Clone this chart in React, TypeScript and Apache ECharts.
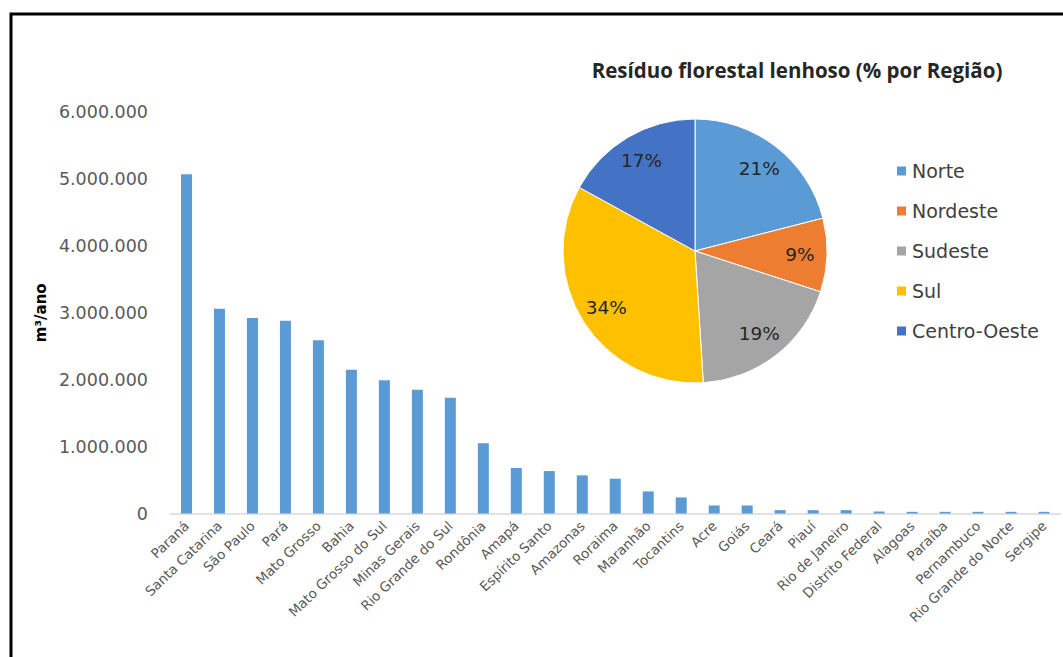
import React, { useEffect, useRef } from "react";
import * as echarts from "echarts";

const states = [
  "Paraná", "Santa Catarina", "São Paulo", "Pará", "Mato Grosso", "Bahia",
  "Mato Grosso do Sul", "Minas Gerais", "Rio Grande do Sul", "Rondônia", "Amapá",
  "Espírito Santo", "Amazonas", "Roraima", "Maranhão", "Tocantins", "Acre", "Goiás",
  "Ceará", "Piauí", "Rio de Janeiro", "Distrito Federal", "Alagoas", "Paraíba",
  "Pernambuco", "Rio Grande do Norte", "Sergipe",
];
const volumes = [
  5070000, 3060000, 2920000, 2880000, 2590000, 2150000, 1990000, 1850000, 1730000,
  1050000, 680000, 634000, 570000, 520000, 330000, 240000, 120000, 120000,
  50000, 50000, 50000, 30000, 25000, 25000, 25000, 25000, 25000,
];
const regions = ["Norte", "Nordeste", "Sudeste", "Sul", "Centro-Oeste"];
const regionShares = [21, 9, 19, 34, 17];
const regionColors = ["#5B9BD5", "#ED7D31", "#A5A5A5", "#FFC000", "#4472C4"];
const yTicks = [0, 1000000, 2000000, 3000000, 4000000, 5000000, 6000000];

const fmt = (v: number) => String(v).replace(/\B(?=(\d{3})+(?!\d))/g, ".");

export default function App() {
  const ref = useRef<HTMLDivElement>(null);
  useEffect(() => {
    const chart = echarts.init(ref.current!, null, { renderer: "svg" });
    const pieData = regions.map((n, i) => ({
      name: n,
      value: regionShares[i],
      itemStyle: { color: regionColors[i] },
    }));
    chart.setOption({
      animation: false,
      backgroundColor: "#fff",
      title: {
        text: "Resíduo florestal lenhoso (% por Região)",
        left: 792,
        top: 54,
        textAlign: "center",
        textStyle: { fontFamily: "Open Sans", fontWeight: "bold", fontSize: 20.5, color: "#262626" },
      },
      legend: {
        orient: "vertical",
        left: 890,
        top: 156,
        itemWidth: 11,
        itemHeight: 11,
        itemGap: 20,
        icon: "rect",
        data: regions.map((n, i) => ({ name: n, itemStyle: { color: regionColors[i] } })),
        textStyle: { fontFamily: "DejaVu Sans", fontSize: 19, lineHeight: 20, color: "#404040", padding: [0, 0, 0, 0] },
      },
      grid: { left: 170, right: 2.5, top: 112, bottom: 143.5, containLabel: false },
      xAxis: {
        type: "category",
        data: states,
        axisLine: { lineStyle: { color: "#D9D9D9", width: 1.5 } },
        axisTick: { show: false },
        axisLabel: {
          interval: 0,
          rotate: 44,
          margin: 10,
          fontFamily: "DejaVu Sans",
          fontSize: 13.5,
          color: "#595959",
        },
      },
      yAxis: {
        type: "value",
        min: 0,
        max: 6000000,
        interval: 1000000,
        name: "m³/ano",
        nameLocation: "middle",
        nameGap: 122,
        nameTextStyle: { fontFamily: "DejaVu Sans", fontWeight: "bold", fontSize: 15, color: "#000" },
        axisLine: { show: false },
        axisTick: { show: false },
        splitLine: { show: false },
        axisLabel: {
          margin: 22,
          fontFamily: "DejaVu Sans",
          fontSize: 17.5,
          color: "#595959",
          formatter: (v: number) => (yTicks.includes(v) ? fmt(v) : ""),
        },
      },
      series: [
        {
          type: "bar",
          data: volumes,
          barWidth: 11,
          itemStyle: { color: "#5B9BD5" },
        },
        {
          type: "pie",
          center: [695, 251],
          radius: [0, 132],
          startAngle: 90,
          clockwise: true,
          data: pieData,
          label: { show: false },
          labelLine: { show: false },
          itemStyle: { borderColor: "#fff", borderWidth: 1 },
        },
        {
          type: "pie",
          center: [695, 251],
          radius: [72, 132],
          startAngle: 90,
          clockwise: true,
          silent: true,
          data: regions.map((n, i) => ({
            name: n,
            value: regionShares[i],
            itemStyle: { color: "rgba(0,0,0,0)" },
          })),
          itemStyle: { borderWidth: 0 },
          labelLine: { show: false },
          label: {
            show: true,
            position: "inside",
            formatter: "{c}%",
            fontFamily: "DejaVu Sans",
            fontSize: 18.5,
            color: "#262626",
          },
        },
      ],
      graphic: [
        {
          type: "rect",
          shape: { x: 11, y: 14, width: 1060, height: 700 },
          style: { fill: "none", stroke: "#000", lineWidth: 3 },
          silent: true,
        },
      ],
    });
    return () => chart.dispose();
  }, []);
  return (
    <div
      ref={ref}
      style={{ position: "fixed", left: 0, top: 0, width: 1063, height: 657 }}
    />
  );
}
